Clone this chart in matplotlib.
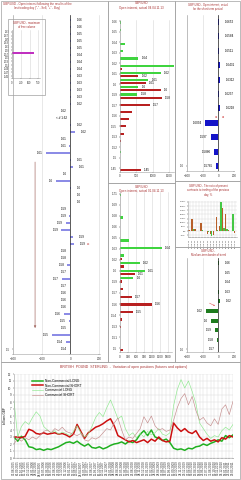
"""GBP/USD open interest dashboard (futures & options)."""

import matplotlib

matplotlib.use("Agg")
import matplotlib.pyplot as plt
from matplotlib.patches import Rectangle
import numpy as np
import pandas as pd

W, H = 241, 480
TITLE_RED = "#a83232"
FRAME = "#a0a0a0"
GRID = "#d6d6d6"
FS = 2.2

plt.rcParams["font.family"] = ["Liberation Sans", "DejaVu Sans"]

# --- left: open interest after the last trading day ("-" sell, "+" buy)
ladder_prices = [
    "1.66", "1.66", "1.65", "1.65", "1.65", "1.64", "1.64", "1.64",
    "1.63", "1.63", "1.63", "1.63", "1.62", "1.62", "1.62", "1.62",
    "1.62", "1.61", "1.61", "1.61", "1.61", "1.61", "1.6", "1.6",
    "1.6", "1.6", "1.6", "1.59", "1.59", "1.59", "1.59", "1.59",
    "1.59", "1.58", "1.58", "1.58", "1.57", "1.57", "1.57", "1.56",
    "1.56", "1.56", "1.56", "1.55", "1.55", "1.55", "1.54", "1.54",
]
ladder_values = [
    3, 2, 3, 2, 2, 3, 2, 2, 3, 2, 3, 2, 2, -4, -1, 3,
    30, -3, -6, -172, 2, 20, -2, -97, 2, 1, 1, -2, -6, -30, -62, 20,
    25, -2, -3, -20, -2, -60, -3, -2, -3, -2, -45, -8, -3, -130, -30, -4,
]
ladder_current_row = 14
ladder_prev_row = 32
ladder_trend_x = -246
ladder_trend_rows = (19.9, 44.4)

# inset: maximum of free volume
free_ticks = [1.69, 1.67, 1.65, 1.63, 1.61, 1.59, 1.57, 1.55, 1.53, 1.51, 1.49, 1.47, 1.45]
free_price = 1.575
free_volume = 620

# --- middle: open interest, actual
oi_top_levels = ["1.69", "1.68", "1.67", "1.66", "1.65", "1.64", "1.63", "1.62", "1.61", "1.6",
                 "1.58", "1.57", "1.56", "1.55", "1.54", "1.53", "1.52", "1.51", "1.5", "1.49", "1.45"]
oi_top_long = [30, 30, 0, 150, 90, 555, 1740, 1230, 860, 555, 525, 0, 0, 0, 0, 0, 0, 0, 30, 0, 0]
oi_top_short = [0, 0, 0, 0, 0, 0, 70, 555, 780, 1230, 1280, 900, 350, 270, 170, 120, 40, 0, 0, 0, 630]
oi_top_ticks = ["1.66", "1.65", "1.64", "1.63", "1.62", "1.61", "1.6", "1.59",
                "1.57", "1.56", "1.55", "1.53", "1.52", "1.5", "1.45"]

oi_low_levels = ["1.71", "1.7", "1.69", "1.68", "1.67", "1.66", "1.65", "1.64", "1.63", "1.62", "1.61",
                 "1.6", "1.58", "1.57", "1.56", "1.55", "1.54", "1.53", "1.52", "1.51", "1.5"]
oi_low_long = [30, 0, 0, 110, 0, 0, 340, 1575, 150, 740, 940, 500, 0, 0, 0, 0, 0, 0, 0, 0, 0]
oi_low_short = [0, 0, 0, 0, 0, 0, 0, 0, 60, 150, 560, 90, 120, 440, 1190, 490, 90, 40, 0, 0, 120]
oi_low_ticks = ["1.71", "1.69", "1.68", "1.66", "1.65", "1.63", "1.62", "1.6",
                "1.59", "1.57", "1.56", "1.54", "1.53", "1.51", "1.5"]

# --- right: short-term open interest
short_prices = ["1.6652", "1.6584", "1.6511", "1.6431", "1.6312", "1.6237",
                "1.6218", "1.6034", "1.597", "1.5886", "1.5785"]
short_values = [5, 4, 3, 25, 18, 3, 22, -170, -100, -55, -30]

# ratio of present contracts to previous day, %
ratio_dates = pd.date_range(end="2011-04-01", periods=16, freq="B").strftime("%d.%m.%y")
ratio_short = [10, 150, 30, 0, 100, 0, -30, -40, -50, 170, 60, 280, 200, 10, 0, -20]
ratio_long = [0, 20, 0, 0, 10, 0, -10, -60, 0, 10, 350, 40, 20, 0, 210, 0]

# medium-term border of trend
trend_prices = ["1.66", "1.65", "1.64", "1.63", "1.62", "1.62", "1.6", "1.59", "1.58", "1.57"]
trend_values = [3, 2, 2, 4, 20, -160, -100, -40, -20, -5]

# --- bottom: variation of open positions, billion GBP
cot_dates = pd.date_range(end="2011-03-29", periods=60, freq="5W-TUE").strftime("%d.%m.%Y")
nc_long = [3.0, 2.4, 3.1, 2.6, 1.6, 1.5, 1.2, 1.3, 1.1, 1.3, 1.2, 1.4, 1.6, 1.9, 2.2,
           2.3, 2.1, 2.4, 2.0, 1.7, 2.0, 1.5, 1.4, 1.6, 1.3, 1.5, 1.8, 2.0, 2.1, 2.3,
           2.0, 2.4, 2.2, 2.6, 3.4, 3.9, 3.2, 4.0, 3.0, 2.8, 2.5, 2.7, 2.2, 1.4, 1.2,
           1.3, 1.1, 1.4, 1.3, 1.6, 1.7, 2.0, 1.8, 2.1, 2.3, 2.6, 2.4, 3.2, 2.9, 3.3]
nc_short = [3.0, 3.0, 2.9, 3.1, 4.1, 3.9, 3.5, 3.4, 3.6, 3.4, 3.5, 3.6, 3.4, 3.5, 3.3,
            3.0, 3.4, 4.8, 3.8, 2.8, 3.6, 4.0, 4.4, 4.6, 4.9, 5.3, 5.6, 4.6, 3.2, 2.9,
            2.6, 2.3, 2.5, 2.2, 2.4, 2.6, 2.2, 2.7, 2.4, 3.0, 2.5, 2.3, 2.4, 5.0, 4.3,
            3.8, 4.2, 3.7, 3.5, 3.9, 3.0, 2.5, 2.8, 2.4, 2.6, 2.3, 2.9, 2.7, 3.2, 3.0]
cm_long = [8.2, 3.0, 4.5, 5.2, 4.8, 5.8, 6.6, 6.0, 4.5, 4.0, 3.6, 3.9, 3.4, 3.7, 3.5,
           3.2, 3.8, 4.6, 3.6, 3.0, 3.4, 4.5, 5.8, 6.5, 5.9, 7.2, 8.3, 7.0, 5.6, 6.0,
           4.2, 3.2, 3.6, 2.9, 3.5, 3.0, 3.8, 3.3, 3.6, 4.2, 3.4, 3.2, 3.6, 7.5, 9.8,
           11.2, 10.0, 11.0, 9.5, 7.8, 5.0, 4.2, 3.4, 2.8, 3.2, 3.0, 3.9, 4.4, 4.0, 4.8]
cm_short = [2.0, 2.8, 2.4, 2.9, 2.6, 3.0, 2.7, 3.2, 3.8, 4.0, 3.6, 4.2, 3.9, 4.4, 3.8,
            3.6, 3.4, 3.2, 3.5, 2.6, 2.4, 2.9, 2.7, 3.0, 3.6, 4.2, 4.0, 5.0, 5.7, 4.0,
            2.6, 3.0, 2.8, 3.5, 4.2, 5.9, 5.0, 6.0, 4.6, 4.0, 4.2, 3.8, 4.0, 5.4, 7.2,
            8.5, 9.2, 7.6, 8.8, 6.8, 5.4, 5.8, 5.0, 4.6, 5.6, 4.8, 7.0, 7.6, 6.2, 8.1]


def px_rect(x0, y0, x1, y1):
    return [x0 / W, 1 - y1 / H, (x1 - x0) / W, (y1 - y0) / H]


def frame(fig, x0, y0, x1, y1):
    fig.add_artist(Rectangle((x0 / W, 1 - y1 / H), (x1 - x0) / W, (y1 - y0) / H,
                             transform=fig.transFigure, fill=False, ec=FRAME, lw=0.5))


def title(fig, x, y, text, size=FS, color=TITLE_RED):
    fig.text(x / W, 1 - y / H, text, ha="center", va="top", fontsize=size,
             color=color, linespacing=1.1)


def style_axes(ax):
    for side in ("top", "right"):
        ax.spines[side].set_visible(False)
    for side in ("left", "bottom"):
        ax.spines[side].set_color(FRAME)
        ax.spines[side].set_linewidth(0.4)
    ax.tick_params(labelsize=FS, length=1, width=0.3, pad=1, colors="#333333")
    ax.set_facecolor("none")


def label_bars(ax, rows, values, labels, pos_off=4.3, neg_off=2.2):
    for r, v, lab in zip(rows, values, labels):
        if v >= 0:
            ax.annotate(lab, (v, r), xytext=(pos_off, 0), textcoords="offset points",
                        ha="left", va="center", fontsize=FS)
        else:
            ax.annotate(lab, (v, r), xytext=(-neg_off, 0), textcoords="offset points",
                        ha="right", va="center", fontsize=FS)


def draw_ladder(fig):
    frame(fig, 1, 1, 108, 362)
    title(fig, 37, 2, 'GBP/USD - Open interest following the results of the\n'
                      'last trading day ("-" - Sell, "+" - Buy)', size=2.1)
    ax = fig.add_axes(px_rect(13, 15, 100, 354))
    rows = np.arange(len(ladder_values))
    ax.barh(rows, ladder_values, height=0.38, color="#8c8ce6")
    labels = list(ladder_prices)
    labels[ladder_current_row] = "<-# " + labels[ladder_current_row]
    label_bars(ax, rows, ladder_values, labels)
    ax.annotate("", xy=(95, ladder_prev_row), xytext=(150, ladder_prev_row),
                arrowprops=dict(arrowstyle="->", color="#d06060", lw=0.4, mutation_scale=2))
    ax.annotate("", xy=(ladder_trend_x, ladder_trend_rows[1]),
                xytext=(ladder_trend_x, ladder_trend_rows[0]),
                arrowprops=dict(arrowstyle="-|>", color="#a8706a", lw=0.5, mutation_scale=3))
    ax.axvline(0, color="#222222", lw=0.5)
    ax.set_xlim(-400, 207)
    ax.set_ylim(len(rows) - 0.3, -0.7)
    ax.set_xticks([-400, -200, 0, 200])
    ax.set_yticks([len(rows) - 1])
    ax.set_yticklabels(["1.5"])
    ax.grid(axis="x", color=GRID, lw=0.4)
    ax.set_axisbelow(True)
    style_axes(ax)

    # inset: maximum of free volume
    frame(fig, 8, 19, 45, 95)
    title(fig, 26.5, 20.5, "GBP/USD - maximum\nof free volume", size=2.0)
    ins = fig.add_axes(px_rect(12, 30, 40, 78))
    ins.barh([free_price], [free_volume], height=0.011, color="#c030c0")
    ins.set_xlim(0, 800)
    ins.set_ylim(1.44, 1.70)
    ins.set_xticks([0, 250, 500, 750])
    ins.set_yticks(free_ticks)
    ins.set_yticklabels([f"{t:g}" for t in free_ticks])
    ins.grid(axis="x", color=GRID, lw=0.4)
    ins.set_axisbelow(True)
    style_axes(ins)
    ins.tick_params(labelsize=1.9)


def draw_oi(fig, rect, levels, longs, shorts, ticks, xticks, xmax):
    ax = fig.add_axes(px_rect(*rect))
    rows = np.arange(len(levels))
    ax.barh(rows - 0.22, longs, height=0.3, color="#3fd43f")
    ax.barh(rows + 0.22, shorts, height=0.3, color="#b82020")
    for r, lv, sv, lab in zip(rows, longs, shorts, levels):
        if lv >= 400:
            ax.annotate(lab, (lv, r - 0.22), xytext=(2.2, 0), textcoords="offset points",
                        ha="left", va="center", fontsize=FS)
        if sv >= 400:
            ax.annotate(lab, (sv, r + 0.22), xytext=(2.2, 0), textcoords="offset points",
                        ha="left", va="center", fontsize=FS)
    ax.set_xlim(0, xmax)
    ax.set_ylim(len(levels) - 0.5, -0.6)
    ax.set_xticks(xticks)
    ax.set_yticks(np.linspace(-0.4, len(levels) - 1, len(ticks)))
    ax.set_yticklabels(ticks)
    ax.grid(axis="x", color=GRID, lw=0.4)
    ax.set_axisbelow(True)
    style_axes(ax)


def draw_price_bars(fig, rect, prices, values, color, ylim):
    ax = fig.add_axes(px_rect(*rect))
    rows = np.arange(len(values))
    ax.barh(rows, values, height=0.42, color=color)
    label_bars(ax, rows, values, prices)
    ax.axvline(0, color="#222222", lw=0.5)
    ax.set_xlim(-400, 200)
    ax.set_ylim(*ylim)
    ax.set_xticks([-400, -200, 0, 200])
    ax.set_yticks([len(values) - 1])
    ax.set_yticklabels(["1.6"])
    ax.grid(axis="x", color=GRID, lw=0.4)
    ax.set_axisbelow(True)
    style_axes(ax)
    return ax


def draw_ratio(fig):
    frame(fig, 175, 181, 240, 247)
    title(fig, 208, 184, "GBP/USD - The ratio of present\ncontracts to trading of the previous\nday, %", size=2.0)
    ax = fig.add_axes(px_rect(188, 201, 237, 237))
    idx = np.arange(len(ratio_dates))
    ax.bar(idx - 0.22, ratio_short, width=0.44, color="#b8602a")
    ax.bar(idx + 0.22, ratio_long, width=0.44, color="#45c845")
    ax.set_xlim(-0.5, len(idx) - 0.5)
    ax.set_ylim(-70, 360)
    ax.set_yticks(range(-50, 351, 50))
    ax.set_yticklabels([f"{v}%" for v in range(-50, 351, 50)])
    ax.set_xticks(idx)
    ax.set_xticklabels(ratio_dates, rotation=90)
    ax.grid(color=GRID, lw=0.3)
    ax.set_axisbelow(True)
    style_axes(ax)
    ax.tick_params(labelsize=1.7, pad=0.5)


def draw_cot(fig):
    frame(fig, 1, 362, 240, 479)
    fig.text(124 / W, 1 - 365 / H,
             "BRITISH  POUND  STERLING  -  Variation of open positions (futures and options)",
             ha="center", va="top", fontsize=2.5, color=TITLE_RED)
    ax = fig.add_axes(px_rect(14, 374, 233, 458))
    x = np.arange(len(cot_dates))
    ax.plot(x, nc_long, color="#20b020", lw=1.1, label="Non-Commercial LONG")
    ax.plot(x, nc_short, color="#cc1010", lw=1.1, label="Non-Commercial SHORT")
    ax.plot(x, cm_long, color="#8ee88e", lw=0.45, label="Commercial LONG")
    ax.plot(x, cm_short, color="#c48c8c", lw=0.45, label="Commercial SHORT")
    ax.set_xlim(0, len(x) - 1)
    ax.set_ylim(0, 12)
    ax.set_yticks(range(0, 13))
    ax.set_xticks(x)
    ax.set_xticklabels(cot_dates, rotation=90)
    ax.set_ylabel("billions GBP", fontsize=2.2, labelpad=1)
    ax.grid(color=GRID, lw=0.3)
    ax.set_axisbelow(True)
    style_axes(ax)
    ax.tick_params(labelsize=2.2, pad=0.8)
    ax.legend(loc="upper left", bbox_to_anchor=(0.07, 0.97), fontsize=2.3, frameon=False,
              handlelength=3.5, labelspacing=0.25, borderpad=0.2)


def main() -> None:
    fig = plt.figure(figsize=(W / 100, H / 100), dpi=100)
    fig.patch.set_facecolor("white")

    draw_ladder(fig)

    frame(fig, 108, 1, 175, 183)
    title(fig, 141.5, 1.5, "GBP/USD\nOpen interest, actual 04.04.11 13")
    draw_oi(fig, (120, 19.7, 174, 171.6), oi_top_levels, oi_top_long, oi_top_short,
            oi_top_ticks, [0, 500, 1000, 1500], 1640)

    frame(fig, 108, 183, 175, 362)
    title(fig, 141.5, 185, "GBP/USD\nOpen interest, actual 01.04.11 13")
    draw_oi(fig, (120, 192, 172, 352), oi_low_levels, oi_low_long, oi_low_short,
            oi_low_ticks, [0, 300, 600, 900, 1200, 1500, 1800], 1950)

    frame(fig, 175, 1, 240, 181)
    title(fig, 208, 3, "GBP/USD - Open interest, actual\nfor the short-term period", size=2.0)
    ax = draw_price_bars(fig, (187, 15, 234, 171), short_prices, short_values,
                         "#1414c8", (10.35, -0.49))
    ax.annotate("", xy=(-12, 6.6), xytext=(-70, 6.6),
                arrowprops=dict(arrowstyle="->", color="#d04040", lw=0.4, mutation_scale=2))
    ax.annotate("", xy=(45, 6.6), xytext=(105, 6.6),
                arrowprops=dict(arrowstyle="->", color="#d04040", lw=0.4, mutation_scale=2))

    draw_ratio(fig)

    frame(fig, 175, 247, 240, 362)
    title(fig, 208, 249, "GBP/USD -\nMedium-term border of trend", size=2.0)
    ax = draw_price_bars(fig, (187, 258, 234, 352), trend_prices, trend_values,
                         "#1e7b1e", (9.27, -0.52))
    ax.annotate("", xy=(-10, 4.6), xytext=(-145, 4.05),
                arrowprops=dict(arrowstyle="->", color="#e06060", lw=0.4, mutation_scale=2))

    draw_cot(fig)

    fig.savefig("out.png", dpi=100, facecolor="white")


if __name__ == "__main__":
    main()
